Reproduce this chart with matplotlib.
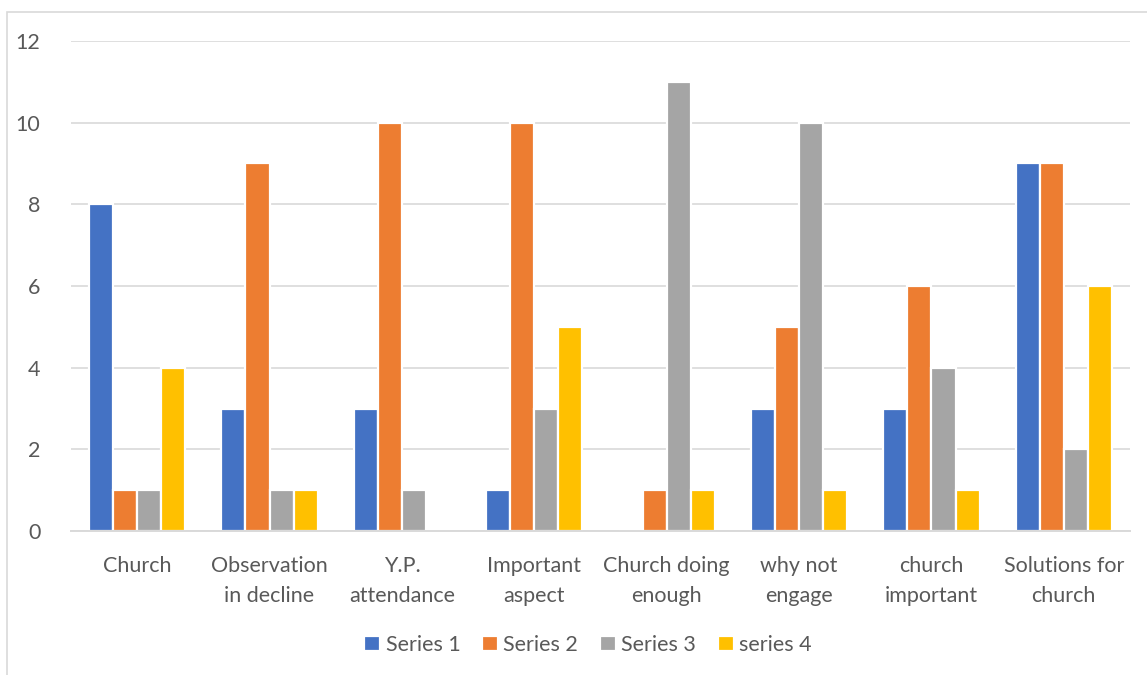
import numpy as np
import matplotlib
matplotlib.use("Agg")
from matplotlib import pyplot as plt
from matplotlib.patches import Rectangle

plt.rcParams['font.family'] = ['Lato', 'DejaVu Sans']

categories = ["Church", "Observation\nin decline", "Y.P.\nattendance", "Important\naspect",
              "Church doing\nenough", "why not\nengage", "church\nimportant", "Solutions for\nchurch"]
series_names = ["Series 1", "Series 2", "Series 3", "series 4"]
series_1 = [8, 3, 3, 1, 0, 3, 3, 9]
series_2 = [1, 9, 10, 10, 1, 5, 6, 9]
series_3 = [1, 1, 1, 3, 11, 10, 4, 2]
series_4 = [4, 1, 0, 5, 1, 1, 1, 6]
colors = ["#4472C4", "#ED7D31", "#A5A5A5", "#FFC000"]

W, H = 1147, 675
fig = plt.figure(figsize=(W / 100, H / 100), dpi=100)
ax = fig.add_axes([71 / W, 1 - 531 / H, (1130 - 71) / W, (531 - 41) / H])

# chart border, top/left only visible
fig.patches.append(Rectangle((7 / W, -0.1), 1.2, 1 - 12 / H + 0.1, transform=fig.transFigure,
                             fill=False, edgecolor="#d9d9d9", linewidth=1.2))

x = np.arange(len(categories))
pitch = 0.182
offsets = (np.arange(4) - 1.5) * pitch
for i, vals in enumerate([series_1, series_2, series_3, series_4]):
    ax.bar(x + offsets[i], vals, width=pitch, color=colors[i], edgecolor="white",
           linewidth=1.6, label=series_names[i], zorder=3)

ax.set_xlim(-0.5, len(categories) - 0.5)
ax.set_ylim(0, 12)
ax.set_yticks(range(0, 13, 2))
ax.yaxis.grid(True, color="#d9d9d9", linewidth=1.2, zorder=0)
ax.set_axisbelow(True)
for s in ["top", "right", "left"]:
    ax.spines[s].set_visible(False)
ax.spines["bottom"].set_color("#d9d9d9")
ax.spines["bottom"].set_linewidth(1.4)
ax.spines["bottom"].set_zorder(4)

ax.set_xticks(x)
ax.set_xticklabels(categories, fontsize=15.5, color="#595959", linespacing=1.62)
ax.tick_params(axis="x", length=0, pad=18)
ax.tick_params(axis="y", length=0, pad=22, labelsize=15.5, labelcolor="#595959")

leg = fig.legend(loc="center", bbox_to_anchor=(588 / W, 1 - 645 / H), ncol=4, frameon=False,
                 fontsize=15.5, handlelength=0.75, handleheight=0.75, handletextpad=0.25,
                 columnspacing=1.0)
for t in leg.get_texts():
    t.set_color("#595959")

fig.savefig("out.png", dpi=100)
